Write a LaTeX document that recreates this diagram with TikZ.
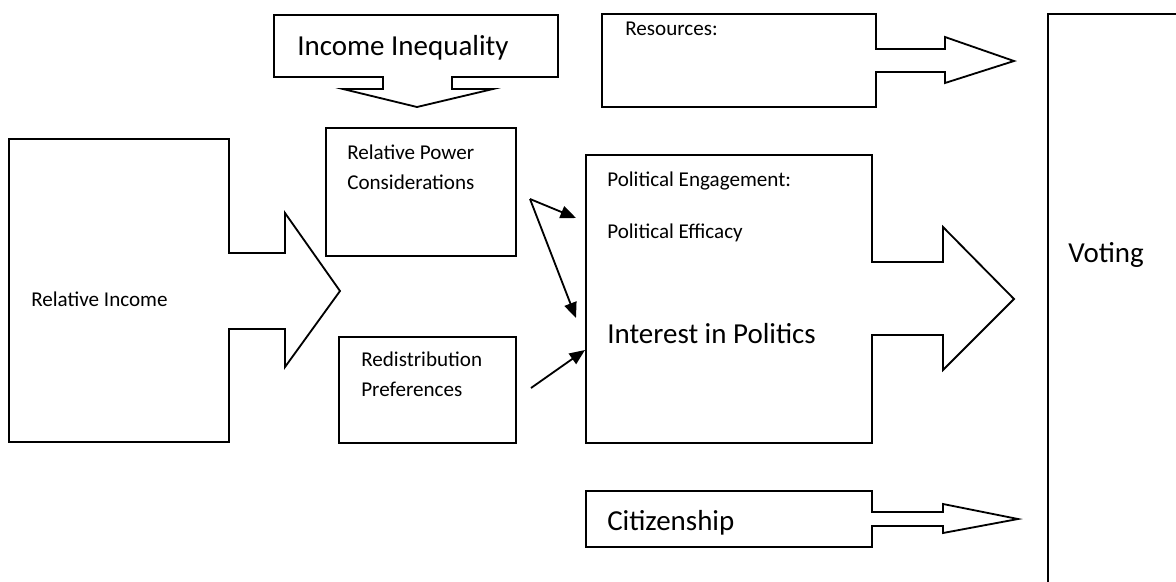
\documentclass[tikz,border=0pt]{standalone}
\usepackage{fontspec}
\setmainfont{Carlito}
\usetikzlibrary{positioning, arrows.meta}

\begin{document}
\begin{tikzpicture}[x=0.025cm, y=-0.025cm]
\tikzset{
>={Triangle[length=11pt, width=9pt]}, % filled heads on the small arrows
blk/.style={draw, line width=1.3pt, line join=miter}, % outlines of boxes and block arrows
small/.style={font=\fontsize{15}{21}\selectfont, inner sep=0pt, anchor=base west, align=left},
big/.style={font=\fontsize{20.6}{26}\selectfont, inner sep=0pt, anchor=base west},
}
\useasboundingbox (0,0) rectangle (1176,581);

	% block arrows
	\draw[blk] (9,139) -- (229,139) -- (229,253) -- (285,253) -- (285,213) -- (340,291)
		-- (285,367) -- (285,329) -- (229,329) -- (229,442) -- (9,442) -- cycle;
	\draw[blk] (274,15) -- (558,15) -- (558,77) -- (452,77) -- (452,89) -- (493,89)
		-- (417,107) -- (343,89) -- (383,89) -- (383,77) -- (274,77) -- cycle;
	\draw[blk] (602,14) -- (876,14) -- (876,49) -- (945,49) -- (945,37) -- (1014,61)
		-- (945,83) -- (945,72) -- (876,72) -- (876,107) -- (602,107) -- cycle;
	\draw[blk] (586,155) -- (872,155) -- (872,262) -- (943,262) -- (943,227) -- (1014,299)
		-- (943,370) -- (943,335) -- (872,335) -- (872,443) -- (586,443) -- cycle;
	\draw[blk] (586,491) -- (872,491) -- (872,512) -- (943,512) -- (943,504) -- (1018,519)
		-- (943,533) -- (943,526) -- (872,526) -- (872,547) -- (586,547) -- cycle;

	% plain boxes
	\draw[blk] (326,128) rectangle (516,256);
	\draw[blk] (339,337) rectangle (516,443);
	\begin{scope}
		\clip (0,0) rectangle (1176,581);
		\draw[blk] (1200,14) -- (1048,14) -- (1048,600);
	\end{scope}

	% labels (base of a two-line label is its last line)
	\node[small] (relinc) at (31,306) {Relative Income};
	\node[big] (ineq) at (297,55) {Income Inequality};
	\node[small] (power) at (347,189) {Relative Power\\Considerations};
	\node[small] (redist) at (361,396) {Redistribution\\Preferences};
	\node[small] (res) at (625,35) {Resources:};
	\node[small] (engage) at (607,186) {Political Engagement:};
	\node[small] (efficacy) at (607,238) {Political Efficacy};
	\node[big] (interest) at (607,343) {Interest in Politics};
	\node[big] (citizen) at (607,530) {Citizenship};
	\node[big] (voting) at (1068,262) {Voting};

	% small arrows into the engagement box
	\coordinate (pwrOut) at (530,199);
	\coordinate (rdOut) at (531,388);
	\coordinate (engIn) at (576,218);
	\coordinate (intIn) at (576,318);
	\coordinate (intIn2) at (585,350);
	\draw[->, line width=1.3pt] (pwrOut) -- (engIn);
	\draw[->, line width=1.3pt] (pwrOut) -- (intIn);
	\draw[->, line width=1.3pt] (rdOut) -- (intIn2);
\end{tikzpicture}
\end{document}
